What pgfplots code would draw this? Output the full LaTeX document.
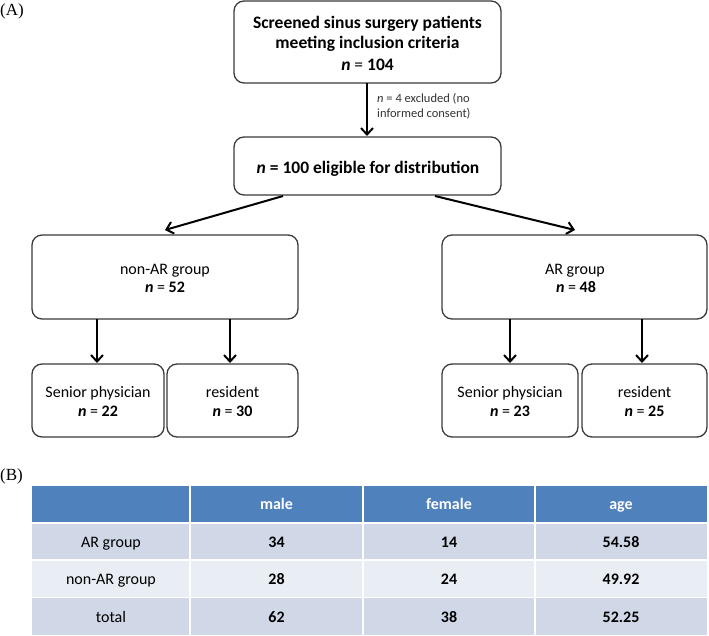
\documentclass[border=0pt]{standalone}
\usepackage{fontspec}
\setmainfont{Carlito}
\newfontfamily\seriffont{Liberation Serif}
\usepackage{pgfplots}
\pgfplotsset{compat=1.18}
\usetikzlibrary{arrows.meta}

\definecolor{boxline}{HTML}{3A3A3A}
\definecolor{hdr}{HTML}{4F81BD}
\definecolor{rowA}{HTML}{D0D8E8}
\definecolor{rowB}{HTML}{E9EDF4}

% text placed on its baseline, in pixel units of the reference
\newcommand{\tx}[4]{\node[anchor=base,inner sep=0pt,font=#3] at (axis cs:#1,#2) {#4};}
\newcommand{\rbox}[4]{\draw[boxline,line width=1.3bp,rounded corners=10bp] (axis cs:#1,#2) rectangle (axis cs:#3,#4);}
\newcommand{\arr}[4]{\draw[black,line width=2bp,-{Straight Barb[length=6.5bp,width=12bp,line width=2bp]}] (axis cs:#1,#2) -- (axis cs:#3,#4);}
\newcommand{\vsep}[1]{\draw[white,line width=1.5bp] (axis cs:#1,486) -- (axis cs:#1,635);}
\newcommand{\nn}[1]{\textbf{\textit{n}} = \textbf{#1}}
\newcommand{\fbig}{\fontsize{17.5bp}{20bp}\selectfont}
\newcommand{\fmid}{\fontsize{16bp}{18bp}\selectfont}

\begin{document}
\begin{tikzpicture}
\begin{axis}[
  scale only axis, width=709bp, height=635bp,
  xmin=0, xmax=709, ymin=0, ymax=635, y dir=reverse,
  axis lines=none, clip=false,
]
\path (axis cs:0,0) rectangle (axis cs:709,635);

% (A) flowchart
\node[anchor=base west,inner sep=0pt,font=\seriffont\fontsize{17bp}{19bp}\selectfont] at (axis cs:0,16) {(A)};

\rbox{234}{1}{501}{83}
\tx{367.5}{29}{\fbig\bfseries}{Screened sinus surgery patients}
\tx{367.5}{49}{\fbig\bfseries}{meeting inclusion criteria}
\tx{367.5}{71}{\fbig}{\nn{104}}

\arr{367}{83}{367}{136}
\node[anchor=base west,inner sep=0pt,font=\fontsize{12.5bp}{14bp}\selectfont,text=black!80] at (axis cs:377,102.5) {\textit{n} = 4 excluded (no};
\node[anchor=base west,inner sep=0pt,font=\fontsize{12.5bp}{14bp}\selectfont,text=black!80] at (axis cs:377,117.5) {informed consent)};

\rbox{234}{137}{501}{195}
\tx{368}{173}{\fbig\bfseries}{\textit{n} = 100 eligible for distribution}

\arr{283}{196}{165}{230}
\arr{435}{196}{575}{230}

\rbox{32}{235}{298}{319}
\tx{165}{274.5}{\fmid}{non-AR group}
\tx{165}{292.5}{\fmid}{\nn{52}}

\rbox{442}{235}{707}{319}
\tx{575}{274.5}{\fmid}{AR group}
\tx{576}{292.5}{\fmid}{\nn{48}}

\arr{97}{319}{97}{363}
\arr{230}{319}{230}{363}
\arr{510}{319}{510}{363}
\arr{642}{319}{642}{363}

\rbox{32}{364}{164}{437}
\rbox{167}{364}{298}{437}
\rbox{442}{364}{578}{437}
\rbox{582}{364}{707}{437}
\tx{98}{397.5}{\fmid}{Senior physician}
\tx{98}{416.5}{\fmid}{\nn{22}}
\tx{232.5}{397.5}{\fmid}{resident}
\tx{232.5}{416.5}{\fmid}{\nn{30}}
\tx{510}{397.5}{\fmid}{Senior physician}
\tx{510}{416.5}{\fmid}{\nn{23}}
\tx{644.5}{397.5}{\fmid}{resident}
\tx{644.5}{416.5}{\fmid}{\nn{25}}

% (B) table
\node[anchor=base west,inner sep=0pt,font=\seriffont\fontsize{17bp}{19bp}\selectfont] at (axis cs:0,480) {(B)};

\fill[hdr]  (axis cs:32,486) rectangle (axis cs:707,522);
\fill[rowA] (axis cs:32,523) rectangle (axis cs:707,560);
\fill[rowB] (axis cs:32,560) rectangle (axis cs:707,597.5);
\fill[rowA] (axis cs:32,597.5) rectangle (axis cs:707,635);
\draw[white,line width=2.5bp] (axis cs:32,523) -- (axis cs:707,523);
\draw[white,line width=1.5bp] (axis cs:32,560) -- (axis cs:707,560);
\draw[white,line width=1.5bp] (axis cs:32,597.5) -- (axis cs:707,597.5);
\vsep{190}
\vsep{363}
\vsep{535}

\tx{276.5}{509.5}{\fmid\bfseries\color{white}}{male}
\tx{449}{509.5}{\fmid\bfseries\color{white}}{female}
\tx{621}{509.5}{\fmid\bfseries\color{white}}{age}

\tx{111}{547}{\fmid}{AR group}
\tx{276.5}{547}{\fmid\bfseries}{34}
\tx{449}{547}{\fmid\bfseries}{14}
\tx{621}{547}{\fmid\bfseries}{54.58}

\tx{111}{584.5}{\fmid}{non-AR group}
\tx{276.5}{584.5}{\fmid\bfseries}{28}
\tx{449}{584.5}{\fmid\bfseries}{24}
\tx{621}{584.5}{\fmid\bfseries}{49.92}

\tx{111}{622}{\fmid}{total}
\tx{276.5}{622}{\fmid\bfseries}{62}
\tx{449}{622}{\fmid\bfseries}{38}
\tx{621}{622}{\fmid\bfseries}{52.25}
\end{axis}
\end{tikzpicture}
\end{document}
